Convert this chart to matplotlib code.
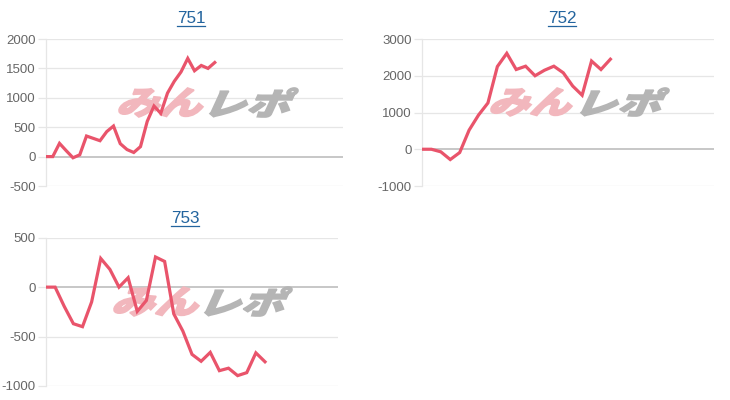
import numpy as np
import matplotlib
matplotlib.use("Agg")
import matplotlib.pyplot as plt
from matplotlib.textpath import TextPath
from matplotlib.font_manager import FontProperties
from matplotlib.patches import PathPatch
from matplotlib.transforms import Affine2D, IdentityTransform
from matplotlib.lines import Line2D

plt.rcParams['font.family'] = ['Liberation Sans', 'DejaVu Sans']
plt.rcParams['axes.unicode_minus'] = False

# data
titles = ['751', '752', '753']
n_slots = [45, 32, 33]
series = [
    [0, 0, 225, 100, -20, 30, 350, 310, 270, 425, 520, 220, 120, 70, 170,
     600, 860, 736, 1080, 1280, 1440, 1670, 1460, 1550, 1500, 1600],
    [0, 0, -70, -280, -90, 520, 930, 1260, 2250, 2610, 2170, 2260, 2000,
     2150, 2260, 2080, 1720, 1470, 2400, 2170, 2450],
    [0, 0, -195, -370, -400, -150, 290, 180, 0, 95, -245, -135, 305, 260,
     -270, -445, -680, -750, -660, -845, -820, -895, -865, -665, -755],
]
y_ticks = [
    [-500, 0, 500, 1000, 1500, 2000],
    [-1000, 0, 1000, 2000, 3000],
    [-1000, -500, 0, 500],
]

W, H = 730, 400
# plot boxes in pixels: left, right, top, bottom
boxes = [(46, 343, 39, 186), (422, 714, 39, 186), (46, 338, 237.7, 386)]
title_pos = [(191, 23.3), (562, 23.3), (185, 223)]
# watermark boxes (pink part, grey part) in pixels: x0, x1, top, bottom
marks = [
    ((118, 204, 87, 118), (209, 299, 87, 118)),
    ((490, 573, 87, 117), (580, 670, 87, 117)),
    ((113, 200, 286, 317), (204, 293, 286, 317)),
]

line_color = '#e9546b'
fp = FontProperties(family='Noto Sans CJK JP', weight='heavy')

fig = plt.figure(figsize=(W / 100, H / 100), dpi=100)


def add_mark(ax, text, box, color):
    x0, x1, top, bottom = box
    p = TextPath((0, 0), text, size=40, prop=fp)
    p = p.transformed(Affine2D().skew_deg(18, 0))
    ext = p.get_extents()
    sx = (x1 - x0 - 2) / ext.width
    sy = (bottom - top - 2) / ext.height
    tr = (Affine2D().translate(-ext.x0, -ext.y0).scale(sx, sy)
          .translate(x0 + 1, H - bottom + 1))
    patch = PathPatch(p.transformed(tr), facecolor=color, edgecolor=color,
                      lw=1.2, transform=IdentityTransform(), zorder=1.5,
                      clip_on=False)
    ax.add_patch(patch)


for i in range(3):
    l, r, t, b = boxes[i]
    ax = fig.add_axes([l / W, 1 - b / H, (r - l) / W, (b - t) / H])
    vals = series[i]
    ax.plot(np.arange(len(vals)), vals, color=line_color, lw=2.3,
            solid_joinstyle='miter', zorder=3)
    ax.set_xlim(0, n_slots[i] - 1)
    ax.set_ylim(y_ticks[i][0], y_ticks[i][-1])
    ax.set_yticks(y_ticks[i])
    ax.set_xticks([])
    for v in y_ticks[i]:
        if v == 0:
            ax.axhline(v, color='#bdbdbd', lw=1.2, zorder=1)
        else:
            ax.axhline(v, color='#e6e6e6', lw=0.9, zorder=1)
    for s in ['top', 'right', 'bottom']:
        ax.spines[s].set_visible(False)
    ax.spines['left'].set_color('#e6e6e6')
    ax.spines['left'].set_linewidth(0.9)
    ax.tick_params(axis='y', length=6, width=0.9, color='#e6e6e6',
                   labelcolor='#666666', labelsize=9.5, pad=1.5)
    ax.patch.set_alpha(0)

    add_mark(ax, 'みん', marks[i][0], '#f2b7bd')
    add_mark(ax, 'レポ', marks[i][1], '#b5b5b5')

    tx, ty = title_pos[i]
    fig.text(tx / W, 1 - ty / H, titles[i], ha='center', va='baseline',
             fontsize=12.3, color='#23649e')

fig.canvas.draw()
renderer = fig.canvas.get_renderer()
for txt in fig.texts:
    bb = txt.get_window_extent(renderer)
    x, y = txt.get_position()
    yb = y * H - 2.6
    fig.add_artist(Line2D([bb.x0 / W, bb.x1 / W], [yb / H, yb / H],
                          transform=fig.transFigure, color='#23649e', lw=0.9))

fig.savefig('out.png', dpi=100)
